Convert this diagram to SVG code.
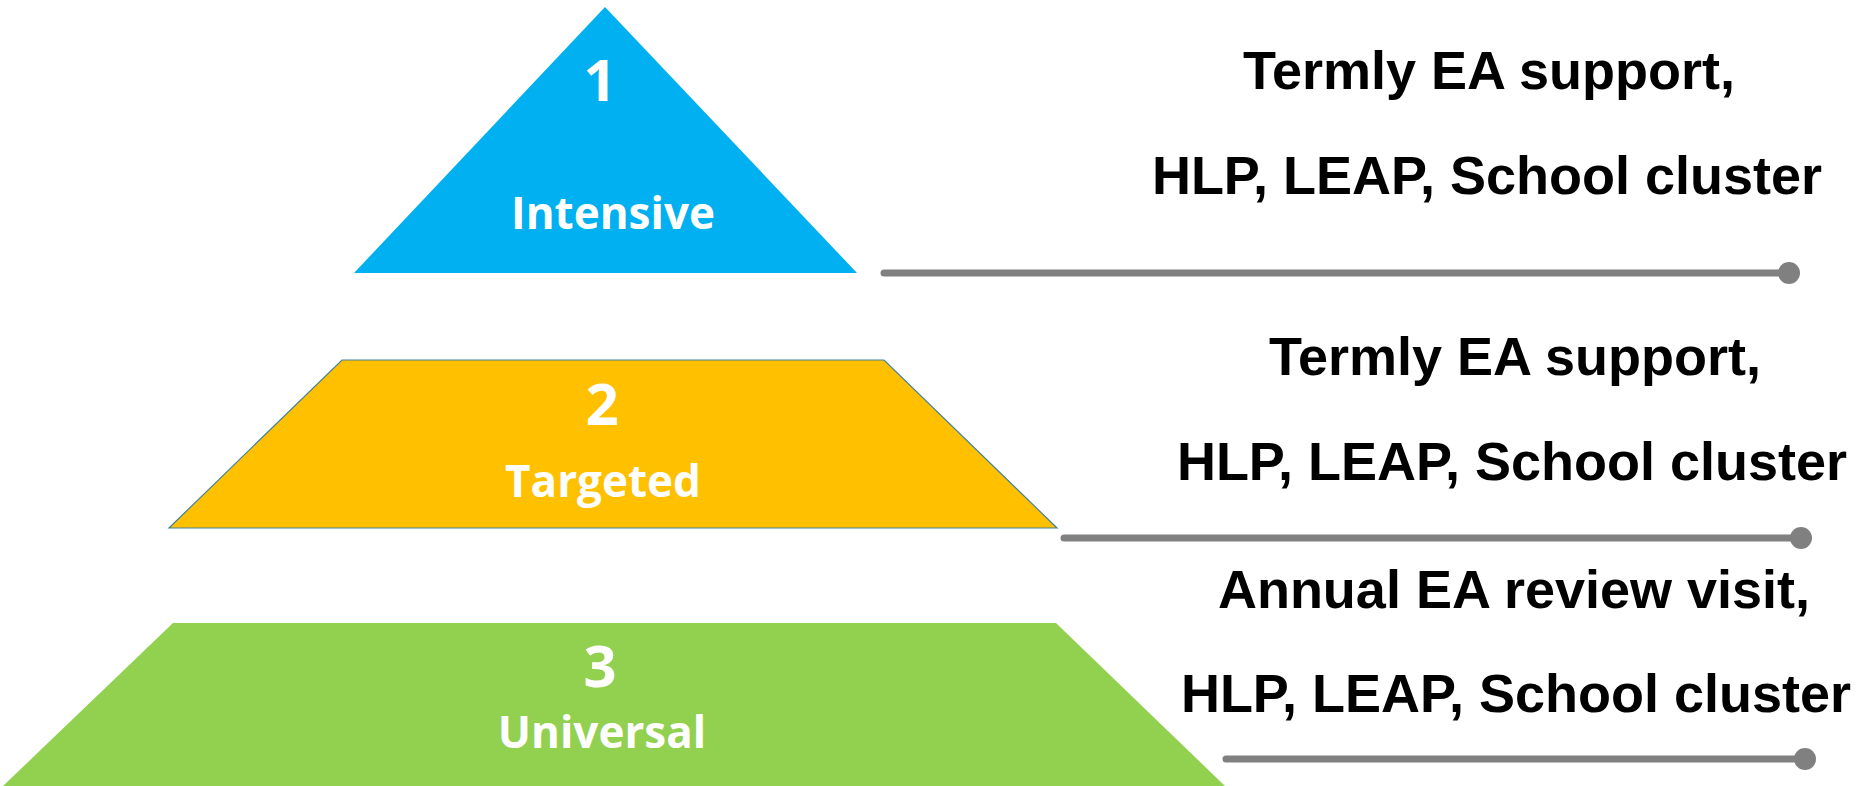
<svg xmlns="http://www.w3.org/2000/svg" width="1868" height="786" viewBox="0 0 1868 786">
<style>
.num{font-family:"Open Sans","Liberation Sans",sans-serif;font-weight:700;font-size:58px;fill:#fff;text-anchor:middle}
.lbl{font-family:"Open Sans","Liberation Sans",sans-serif;font-weight:700;font-size:44px;fill:#fff;text-anchor:middle}
.txt{font-family:"Liberation Sans",Arial,sans-serif;font-weight:700;font-size:54px;fill:#000;text-anchor:middle}
.conn{stroke:#808080;stroke-width:7;stroke-linecap:round;fill:none}
.dot{fill:#808080}
</style>
<rect width="1868" height="786" fill="#fff"/>
<g id="tier1">
<polygon points="605,7 857,273 354,273" fill="#00B0F0"/>
<text class="num" x="600" y="101">1</text>
<text class="lbl" x="613" y="229">Intensive</text>
</g>
<g id="tier2">
<polygon points="342,360 884,360 1057,528 169,528" fill="#FFC000" stroke="#41819C" stroke-width="1.2"/>
<text class="num" x="602" y="425">2</text>
<text class="lbl" x="603" y="497">Targeted</text>
</g>
<g id="tier3">
<polygon points="173,623 1056,623 1225,786 3,786" fill="#92D050"/>
<text class="num" x="600" y="687">3</text>
<text class="lbl" x="602" y="748">Universal</text>
</g>
<g id="connectors">
<line class="conn" x1="884" y1="273" x2="1789" y2="273"/>
<circle class="dot" cx="1789" cy="273" r="11"/>
<line class="conn" x1="1064" y1="538" x2="1801" y2="538"/>
<circle class="dot" cx="1801" cy="538" r="11"/>
<line class="conn" x1="1226" y1="759" x2="1805" y2="759"/>
<circle class="dot" cx="1805" cy="759" r="11"/>
</g>
<g id="text1">
<text class="txt" x="1489" y="89">Termly EA support,</text>
<text class="txt" x="1487" y="194">HLP, LEAP, School cluster</text>
</g>
<g id="text2">
<text class="txt" x="1515" y="375">Termly EA support,</text>
<text class="txt" x="1512" y="480">HLP, LEAP, School cluster</text>
</g>
<g id="text3">
<text class="txt" x="1514" y="608">Annual EA review visit,</text>
<text class="txt" x="1516" y="712">HLP, LEAP, School cluster</text>
</g>
</svg>
